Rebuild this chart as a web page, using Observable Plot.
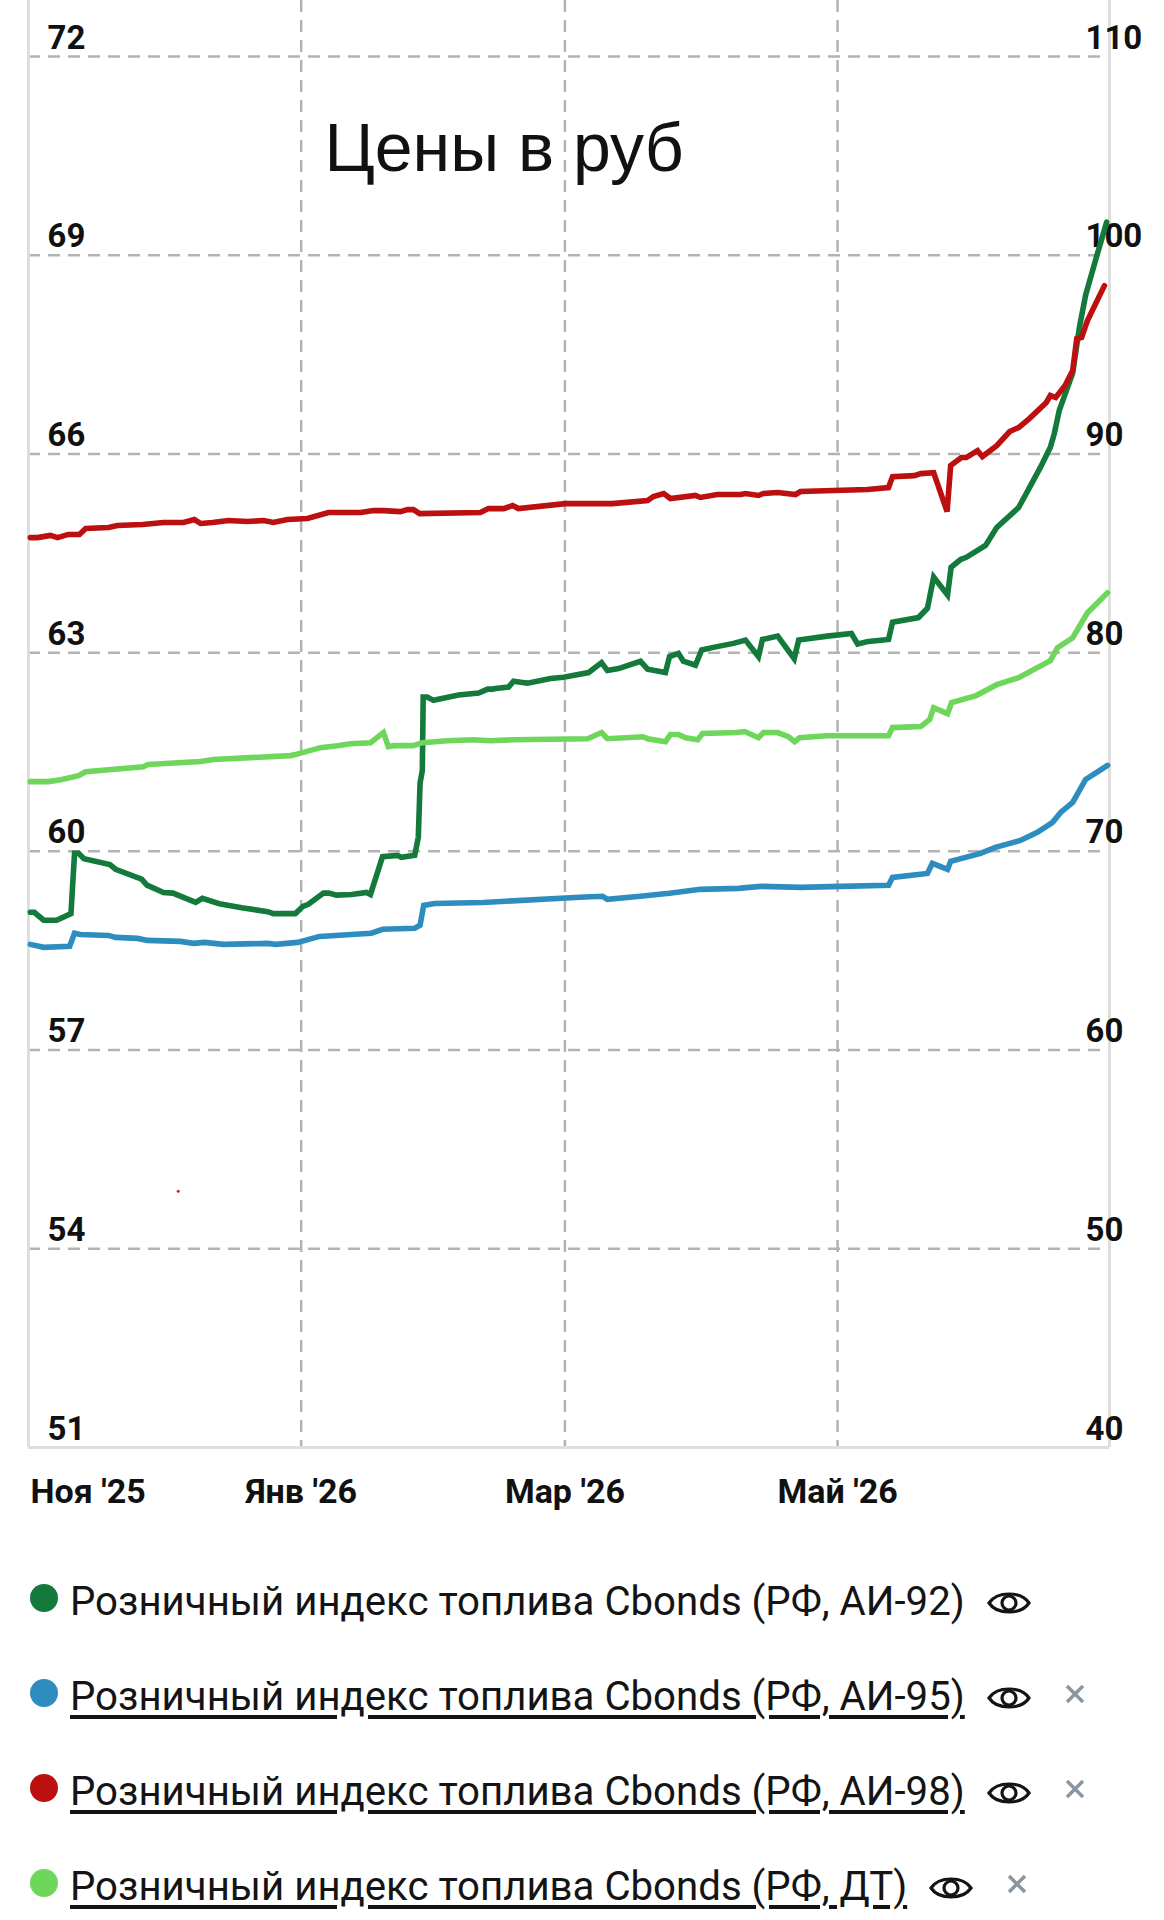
<!DOCTYPE html>
<html><head><meta charset="utf-8">
<script src="https://cdn.jsdelivr.net/npm/d3@7"></script>
<script src="https://cdn.jsdelivr.net/npm/@observablehq/plot@0.6"></script>
<style>
html,body{margin:0;padding:0;background:#fff;width:1164px;height:1920px;overflow:hidden}
#chart{position:absolute;left:0;top:0}
#chart svg{overflow:visible;display:block;background:transparent}
#legend{position:absolute;left:0;top:1550px;width:1164px;font-family:Roboto,sans-serif;font-size:40.2px;color:#141414}
.row{position:relative;height:95px}
.dot{position:absolute;left:30px;top:34px;width:28px;height:28px;border-radius:50%}
.lbl{position:absolute;left:70px;top:29px;line-height:46px;white-space:nowrap}
.lbl.u{text-decoration:underline;text-decoration-thickness:3.5px;text-underline-offset:5px}
.ico{position:absolute}
</style></head><body>
<div id="chart"></div><div id="legend"></div>
<script>
// Days since 1 Nov 2025 and values; AI-92 is read on the left axis, the others on the right axis
const startDate = "2025-11-01";
const endDate = "2026-06-30T20:00Z";
const days92 = [0.4,1.3,3.4,6.3,9.5,10.3,11.2,12.4,18.2,19.5,25.3,26.5,30.2,32.3,37.4,38.9,42.7,47.7,53.5,54.8,59.7,61.4,62.6,66,67.2,68.9,72.3,75.6,76.5,79.2,82.6,83.4,86.4,87.2,87.6,88.1,88.3,89.2,90.6,96.2,100.7,102.7,103.8,104.5,107.4,108.5,110.5,111.6,116.8,119.7,125.3,128.2,129.5,132,136.9,138.5,142.5,143.4,145.4,146.5,149.2,150.6,153.2,157.7,160.4,163.3,164.2,167.6,171.3,172.3,178.7,184.1,185.5,187.9,192.4,193.3,199.1,201.1,202.5,205.6,206.4,208.6,209.8,214.1,216.6,221.5,223.6,226.4,228.6,229.5,230.6,233.6,235.1,236.5,238.9,241.2];
const ai92 = [59.08,59.08,58.96,58.96,59.06,59.97,59.97,59.89,59.80,59.73,59.58,59.49,59.38,59.37,59.23,59.29,59.21,59.15,59.09,59.06,59.06,59.17,59.20,59.37,59.37,59.34,59.35,59.38,59.35,59.92,59.94,59.91,59.94,60.21,61.03,61.22,62.33,62.33,62.28,62.36,62.39,62.45,62.45,62.46,62.48,62.57,62.55,62.54,62.61,62.63,62.70,62.85,62.73,62.76,62.87,62.75,62.70,62.94,62.99,62.87,62.81,63.04,63.08,63.14,63.19,62.94,63.20,63.25,62.91,63.19,63.25,63.29,63.13,63.17,63.20,63.46,63.53,63.67,64.14,63.87,64.29,64.41,64.44,64.62,64.89,65.19,65.45,65.80,66.10,66.31,66.66,67.22,67.91,68.40,68.97,69.50];
const days95 = [0.4,3.4,9.2,10.3,11.6,17.9,19.5,24.4,26.6,34,36.9,39.4,43.6,53.5,55.3,60.2,65.1,76.7,79.2,86.4,87.6,88.4,90.8,101.7,123.3,128.4,129.5,136.9,143.4,150.3,158.8,163.8,172.7,181.7,192.4,193.3,201.1,202.2,205.6,206.3,213,216.3,221.9,225.7,229.1,230.9,233.6,236.5,241.4];
const ai95 = [65.32,65.17,65.22,65.88,65.82,65.77,65.67,65.62,65.52,65.47,65.37,65.42,65.32,65.37,65.32,65.42,65.72,65.88,66.08,66.13,66.28,67.28,67.38,67.43,67.69,67.74,67.59,67.74,67.89,68.09,68.14,68.24,68.19,68.24,68.29,68.69,68.89,69.40,69.09,69.50,69.90,70.20,70.55,70.96,71.46,71.96,72.46,73.62,74.33];
const days98 = [0.4,2,4.9,6.5,8.9,11.4,12.8,17.9,19.9,25.5,30.2,34.7,37.1,38.5,41.2,44.7,49,52.6,54.8,57.9,62.4,67.1,74.3,77.2,79.4,83.2,84.8,86.1,87.5,101.1,102.9,106.3,108.3,109.6,120.1,130.6,138.5,139.8,142.1,143.6,149.2,150.3,154.1,159.3,160.4,163.3,164.4,167.6,171.6,172.7,187.7,192.4,193.3,198.2,199.6,202.5,205.5,206.3,208.7,209.8,212.3,213.4,216.6,219.5,221.5,223.9,227.7,228.6,229.8,231.9,233.6,234.5,235.6,236.9,240.7];
const ai98 = [85.79,85.79,85.90,85.79,85.95,85.95,86.25,86.30,86.40,86.45,86.55,86.55,86.70,86.50,86.55,86.65,86.60,86.65,86.55,86.70,86.75,87.05,87.05,87.15,87.15,87.10,87.20,87.20,87.00,87.05,87.25,87.25,87.40,87.25,87.50,87.50,87.66,87.86,88.01,87.76,87.91,87.81,87.96,87.96,88.01,87.91,88.01,88.06,87.96,88.11,88.21,88.31,88.86,88.91,89.01,89.06,87.10,89.42,89.82,89.82,90.17,89.87,90.42,91.13,91.33,91.78,92.59,92.94,92.84,93.44,94.20,95.80,95.86,96.71,98.47];
const daysDT = [0.4,4.5,7.2,11.2,12.8,25.7,26.8,38.5,41.4,58.6,59.7,65.3,69.1,72,76.5,79.4,80.5,81.7,86.1,88.1,93.7,99.6,103.4,108.5,125.1,128.2,129.5,137.4,138.5,142.5,143.6,145.4,147,149.7,150.8,158.4,160.2,163.3,164.4,167.6,170,171.4,172.5,178.7,192.4,193.3,199.6,201.6,202.5,205.6,206.5,212,216.6,221.5,228.6,230.2,233.6,236.9,241.4];
const dt = [73.51,73.51,73.61,73.81,74.01,74.26,74.37,74.52,74.62,74.82,74.87,75.22,75.32,75.42,75.47,75.98,75.27,75.32,75.32,75.47,75.57,75.62,75.57,75.62,75.67,75.98,75.67,75.77,75.67,75.52,75.88,75.88,75.72,75.62,75.93,75.98,76.03,75.72,75.98,75.98,75.77,75.52,75.72,75.82,75.82,76.23,76.28,76.63,77.23,76.93,77.49,77.84,78.39,78.74,79.60,80.25,80.75,82.01,83.02];
const rightTicks = [40,50,60,70,80,90,100,110];
const leftFromRight = v => 51 + (v - 40) * 0.3;
const rightFromLeft = v => 40 + (v - 51) / 0.3;
const monthDates = ["2025-11-01","2026-01-01","2026-03-01","2026-05-01"];
const monthLabels = ["Ноя '25","Янв '26","Мар '26","Май '26"];
const titleText = "Цены в руб";
const strayDay = 33.5, strayValue = 52.9;
const names = ["Розничный индекс топлива Cbonds (РФ, АИ-92)","Розничный индекс топлива Cbonds (РФ, АИ-95)","Розничный индекс топлива Cbonds (РФ, АИ-98)","Розничный индекс топлива Cbonds (РФ, ДТ)"];
const colors = ["#137a3c","#2e8dbf","#bb0f10","#6fd65c"];

const dayToDate = d => new Date(new Date(startDate + "T00:00Z").getTime() + d * 864e5);
const toDate = s => new Date(s.length > 10 ? s : s + "T00:00Z");
const table = (days, vals, conv = v => v) => days.map((d, i) => ({date: dayToDate(d), y: conv(vals[i])}));
const gridColor = "#b3b3b3", frameColor = "#dedede";
const months = monthDates.map((m, i) => ({date: toDate(m), label: monthLabels[i]}));
const lineOpts = (c) => ({x: "date", y: "y", stroke: c, strokeWidth: 5.6, strokeLinejoin: "miter", strokeMiterlimit: 3});
const labelFont = {fontFamily: "Roboto", fontSize: 33, fontWeight: 700, fill: "#111"};
const xFont = {...labelFont, fontSize: 34};

const plot = Plot.plot({
  width: 1164, height: 1530, marginLeft: 28, marginRight: 55, marginTop: 0, marginBottom: 83,
  x: {type: "utc", domain: [toDate(startDate), toDate(endDate)], axis: null},
  y: {domain: [40, 112.82], axis: null},
  style: {background: "transparent", overflow: "visible"},
  marks: [
    Plot.ruleY(rightTicks, {stroke: gridColor, strokeWidth: 2.5, strokeDasharray: "12 8", strokeOpacity: 1}),
    Plot.ruleX(months.slice(1), {x: "date", stroke: gridColor, strokeWidth: 2.5, strokeDasharray: "12 8"}),
    Plot.ruleX([toDate(startDate), toDate(endDate)], {stroke: frameColor, strokeWidth: 3}),
    Plot.ruleY([40], {stroke: frameColor, strokeWidth: 3}),
    Plot.axisY({anchor: "left", label: null, ticks: rightTicks, tickSize: 0, tickPadding: -19, textAnchor: "start", lineAnchor: "bottom", dy: -8, tickFormat: d => String(Math.round(leftFromRight(d))), ...labelFont}),
    Plot.axisY({anchor: "right", label: null, ticks: rightTicks, tickSize: 0, tickPadding: -24, textAnchor: "start", lineAnchor: "bottom", dy: -8, tickFormat: d => String(d), ...labelFont}),
    Plot.line(table(days92, ai92, rightFromLeft), lineOpts(colors[0])),
    Plot.line(table(days95, ai95), lineOpts(colors[1])),
    Plot.line(table(days98, ai98), lineOpts(colors[2])),
    Plot.line(table(daysDT, dt), lineOpts(colors[3])),
    Plot.dot([{date: dayToDate(strayDay), y: strayValue}], {x: "date", y: "y", r: 1.5, fill: "#e02020"}),
    Plot.text(months.slice(0, 1), {x: "date", text: "label", frameAnchor: "bottom", textAnchor: "start", lineAnchor: "bottom", dx: 2, dy: 55, ...xFont}),
    Plot.text(months.slice(1), {x: "date", text: "label", frameAnchor: "bottom", textAnchor: "middle", lineAnchor: "bottom", dy: 55, ...xFont}),
    Plot.text([titleText], {frameAnchor: "top-left", textAnchor: "start", lineAnchor: "top", dx: 296, dy: 122, fontFamily: "Liberation Sans", fontSize: 68, fill: "#111"})
  ]
});
document.getElementById("chart").append(plot);

const eye = `<svg width="44" height="30" viewBox="0 0 44 30" fill="none" stroke="#141414" stroke-width="3.2"><path d="M2 15 C10 3,34 3,42 15 C34 27,10 27,2 15Z"/><circle cx="22" cy="15" r="7"/></svg>`;
const cross = `<svg width="20" height="20" viewBox="0 0 20 20" stroke="#8a95a0" stroke-width="3.4"><path d="M2 2 L18 18 M18 2 L2 18"/></svg>`;
const legend = d3.select("#legend");
names.forEach((n, i) => {
  const r = legend.append("div").attr("class", "row");
  r.append("div").attr("class", "dot").style("background", colors[i]);
  const l = r.append("div").attr("class", "lbl" + (i ? " u" : "")).text(n);
  const w = l.node().getBoundingClientRect().width;
  r.append("div").attr("class", "ico").style("left", (70 + w + 22) + "px").style("top", "31px").html(eye);
  if (i) r.append("div").attr("class", "ico").style("left", (70 + w + 100) + "px").style("top", "22px").html(cross);
});
</script>
</body></html>
